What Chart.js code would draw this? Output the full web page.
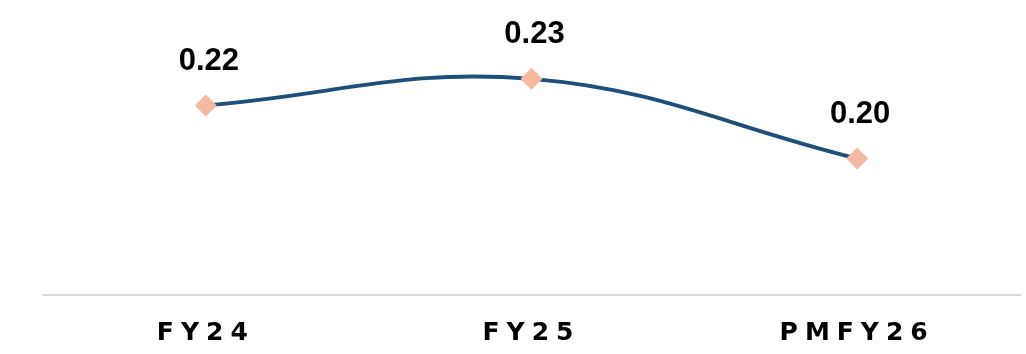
<!DOCTYPE html>
<html>
<head>
<meta charset="utf-8">
<script src="https://cdn.jsdelivr.net/npm/chart.js@4/dist/chart.umd.min.js"></script>
<style>
  html, body { margin: 0; padding: 0; background: #ffffff; overflow: hidden; }
  #wrap { width: 1026px; height: 354px; }
  canvas { display: block; }
</style>
</head>
<body>
<div id="wrap"><canvas id="c" width="1026" height="354"></canvas></div>
<script>
// Periods along the x axis and the ratio reported for each
const categories = ['FY24', 'FY25', 'PMFY26'];
const ratioValues = [0.22, 0.23, 0.20];
const valueLabels = ['0.22', '0.23', '0.20'];

const LINE_COLOR = '#1f4e79';
const MARKER_COLOR = '#f4b9a0';

// Writes the value above each marker
const valueLabelPlugin = {
  id: 'valueLabels',
  afterDatasetsDraw(chart) {
    const ctx = chart.ctx;
    const meta = chart.getDatasetMeta(0);
    ctx.save();
    ctx.letterSpacing = '0px';
    ctx.font = 'bold 31px "Liberation Sans", Arial, sans-serif';
    ctx.fillStyle = '#000000';
    ctx.textAlign = 'center';
    ctx.textBaseline = 'middle';
    meta.data.forEach((pt, i) => {
      ctx.fillText(valueLabels[i], pt.x + 3, pt.y - 44);
    });
    ctx.restore();
  }
};

// Spaced-out lettering for the period names
const tickSpacingPlugin = {
  id: 'tickSpacing',
  beforeDraw(chart) { chart.ctx.letterSpacing = '7px'; },
  beforeDatasetsDraw(chart) { chart.ctx.letterSpacing = '0px'; }
};

new Chart(document.getElementById('c'), {
  type: 'line',
  data: {
    labels: categories,
    datasets: [{
      data: ratioValues,
      borderColor: LINE_COLOR,
      borderWidth: 3.8,
      tension: 0.4,
      pointStyle: 'rectRot',
      pointRadius: 11,
      pointHoverRadius: 11,
      pointBackgroundColor: MARKER_COLOR,
      pointBorderColor: MARKER_COLOR,
      pointBorderWidth: 0,
      fill: false,
      clip: false
    }]
  },
  options: {
    responsive: false,
    animation: false,
    events: [],
    layout: { autoPadding: false, padding: { left: 43, right: 6, top: 0, bottom: -17 } },
    plugins: {
      legend: { display: false },
      tooltip: { enabled: false },
      title: { display: false }
    },
    scales: {
      x: {
        offset: true,
        grid: { display: false, drawTicks: false },
        border: { display: true, color: '#d9d9d9', width: 2 },
        ticks: {
          padding: 23,
          color: '#000000',
          font: { family: '"DejaVu Sans", sans-serif', size: 25, weight: 'bold' }
        }
      },
      y: {
        display: false,
        min: 0.1486,
        max: 0.2597
      }
    }
  },
  plugins: [valueLabelPlugin, tickSpacingPlugin]
});
</script>
</body>
</html>
